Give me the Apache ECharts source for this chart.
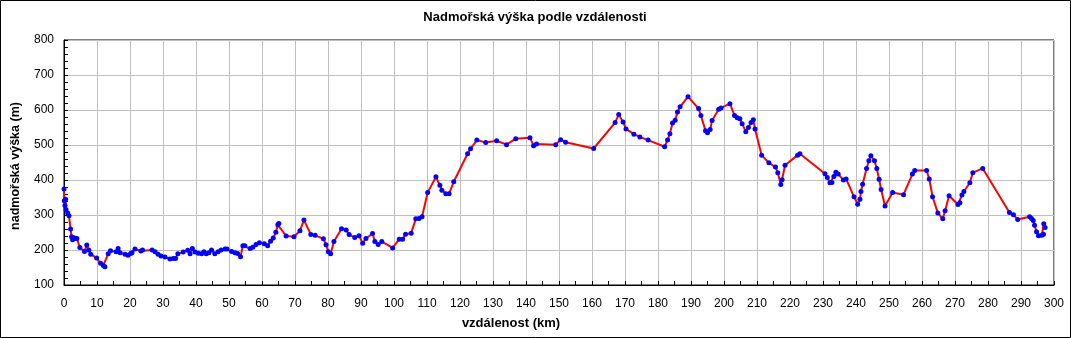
<!DOCTYPE html>
<html>
<head>
<meta charset="utf-8">
<title>Nadmořská výška podle vzdálenosti</title>
<script src="https://cdn.jsdelivr.net/npm/echarts@6/dist/echarts.min.js"></script>
<style>
  html, body { margin: 0; padding: 0; background: #fff; }
  #chart { width: 1071px; height: 338px; }
</style>
</head>
<body>
<div id="chart"></div>
<script>
// Route profile: distance along the route (km) and altitude (m)
const distKm = [
  0, 0.1, 0.3, 0.5, 0.6, 1.1, 1.5, 2.0, 2.3, 2.6, 3.0, 3.5, 3.9, 4.8, 6.2, 6.9, 7.5, 8.1, 9.9,
  11.1, 11.9, 12.4, 13.4, 14.1, 15.8, 16.4, 17.0, 18.5, 19.4, 20.2, 20.6, 21.5, 23.3, 23.8,
  26.7, 27.6, 28.5, 29.4, 30.6, 32.1, 33.1, 33.8, 34.5, 36.1, 37.5, 38.2, 38.9, 39.7, 40.7,
  41.7, 42.4, 43.1, 43.9, 44.7, 45.7, 46.7, 47.6, 48.8, 49.4, 50.8, 51.8, 52.6, 53.5, 54.2,
  54.8, 56.4, 57.2, 58.2, 59.2, 60.7, 61.7, 62.6, 63.4, 64.2, 64.8, 65.1, 67.3, 69.7, 71.5,
  72.7, 74.8, 76.1, 78.6, 79.4, 80.1, 80.8, 81.8, 84.1, 85.5, 86.4, 88.1, 89.4, 90.5, 91.5,
  93.5, 94.2, 95.2, 96.3, 99.6, 101.6, 102.6, 103.5, 105.2, 106.6, 107.6, 108.5, 110.2,
  112.7, 113.9, 114.5, 115.7, 116.7, 118.1, 122.3, 123.2, 125.1, 127.8, 131.1, 134.1, 136.9,
  141.2, 142.3, 143.2, 149.0, 150.5, 152.0, 160.5, 167.0, 168.1, 169.4, 170.3, 172.7, 174.5,
  177.0, 182.0, 182.9, 183.6, 184.4, 185.2, 185.9, 186.7, 189.1, 192.3, 193.0, 194.4, 195.0,
  195.8, 196.4, 198.4, 199.1, 201.8, 203.2, 204.0, 204.8, 205.5, 206.6, 207.4, 208.2, 208.9,
  209.4, 211.4, 213.6, 215.6, 216.3, 217.2, 217.6, 218.5, 222.3, 223.0, 230.6, 231.3, 232.1,
  232.7, 233.3, 233.9, 234.6, 236.2, 237.0, 239.4, 240.5, 241.2, 241.5, 242.0, 243.2, 243.9,
  244.5, 245.6, 246.3, 247.0, 247.6, 248.8, 251.1, 254.4, 257.1, 257.8, 261.4, 262.2, 263.2,
  264.8, 266.3, 267.0, 268.2, 270.9, 271.5, 272.1, 272.7, 274.5, 275.4, 278.4, 286.5, 287.7,
  289.0, 292.6, 293.2, 293.7, 294.1, 294.7, 295.3, 296.3, 296.8, 296.9, 297.3
];
const elevM = [
  374, 341, 327, 345, 316, 306, 298, 260, 238, 229, 235, 233, 233, 207, 196, 214, 200, 188, 177,
  162, 156, 152, 189, 198, 195, 204, 192, 188, 185, 190, 192, 203, 197, 200,
  200, 195, 188, 183, 180, 174, 176, 176, 189, 194, 199, 189, 204, 194, 191,
  189, 195, 189, 192, 200, 189, 195, 200, 203, 203, 196, 192, 190, 181, 212,
  212, 204, 208, 216, 221, 218, 212, 225, 234, 251, 272, 276, 240, 238, 255,
  286, 244, 242, 232, 215, 195, 189, 224, 261, 257, 244, 236, 241, 219, 233,
  247, 224, 216, 224, 206, 231, 231, 245, 248, 289, 290, 295, 364,
  409, 385, 371, 361, 361, 395, 475, 489, 514, 507, 512, 501, 518,
  521, 498, 503, 501, 515, 508, 490, 564, 587, 566, 546, 531, 523,
  514, 495, 514, 532, 563, 571, 594, 609, 638, 604, 584, 541, 535,
  544, 570, 602, 606, 618, 584, 578, 575, 561, 538, 550, 564, 572,
  546, 471, 449, 437, 421, 387, 401, 442, 471, 475, 418, 407, 392,
  393, 410, 422, 417, 400, 403, 352, 331, 345, 367, 388, 433, 455,
  469, 455, 433, 402, 373, 326, 364, 358, 417, 427, 427, 403, 352,
  306, 289, 312, 355, 330, 335, 357, 367, 392, 421, 433, 307, 301,
  287, 295, 290, 284, 271, 252, 241, 242, 245, 275, 264
];

const titleText = 'Nadmořská výška podle vzdálenosti';
const xName = 'vzdálenost (km)';
const yName = 'nadmořská výška (m)';

const profile = distKm.map((d, i) => [d, elevM[i]]);

const FONT = '"Liberation Sans", Arial, sans-serif';
const chart = echarts.init(document.getElementById('chart'), null, { renderer: 'canvas' });

chart.setOption({
  backgroundColor: '#ffffff',
  animation: false,
  textStyle: { fontFamily: FONT },
  grid: {
    left: 64, top: 40, width: 990, height: 245,
    show: true, borderColor: '#000', borderWidth: 1, backgroundColor: '#fff'
  },
  xAxis: {
    type: 'value', min: 0, max: 300, interval: 10,
    axisLine: { show: true, lineStyle: { color: '#000', width: 1 } },
    axisTick: { show: true, inside: true, length: 4, lineStyle: { color: '#000' } },
    minorTick: { show: true, splitNumber: 2, length: 4, lineStyle: { color: '#000' } },
    axisLabel: { color: '#000', fontSize: 12, margin: 13, fontFamily: FONT },
    splitLine: { show: true, lineStyle: { color: '#c0c0c0', width: 1 } }
  },
  yAxis: {
    type: 'value', min: 100, max: 800, interval: 100,
    axisLine: { show: true, lineStyle: { color: '#000', width: 1 } },
    axisTick: { show: true, inside: true, length: 4, lineStyle: { color: '#000' } },
    minorTick: { show: true, splitNumber: 5, length: 4, lineStyle: { color: '#000' } },
    axisLabel: { color: '#000', fontSize: 12, margin: 10, fontFamily: FONT },
    splitLine: { show: true, lineStyle: { color: '#c0c0c0', width: 1 } }
  },
  graphic: [
    {
      type: 'rect', silent: true, z: 100,
      shape: { x: 0.5, y: 0.5, width: 1070, height: 337 },
      style: { fill: 'none', stroke: '#000', lineWidth: 1 }
    },
    {
      type: 'text', x: 535, y: 17, z: 100,
      style: { text: titleText, font: 'bold 13px ' + FONT, fill: '#000', align: 'center', verticalAlign: 'middle' }
    },
    {
      type: 'text', x: 511, y: 323, z: 100,
      style: { text: xName, font: 'bold 13px ' + FONT, fill: '#000', align: 'center', verticalAlign: 'middle' }
    },
    {
      type: 'text', x: 16, y: 166, rotation: Math.PI / 2, z: 100,
      style: { text: yName, font: 'bold 12.5px ' + FONT, fill: '#000', align: 'center', verticalAlign: 'middle' }
    }
  ],
  series: [{
    type: 'line',
    data: profile,
    lineStyle: { color: '#ff0000', width: 2 },
    itemStyle: { color: '#0000ff' },
    symbol: 'circle',
    symbolSize: 5,
    showSymbol: true,
    showAllSymbol: true,
    emphasis: { disabled: true }
  }]
});
</script>
</body>
</html>
